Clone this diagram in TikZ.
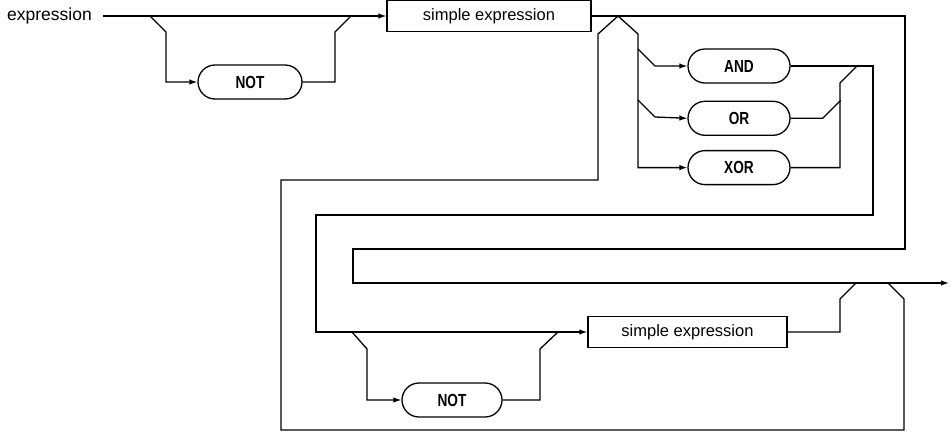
\documentclass[tikz,border=0pt]{standalone}
\usepackage{fontspec}
\setmainfont{Liberation Sans}
\newfontfamily\kwfont[FakeStretch=0.78]{Liberation Sans}
\usetikzlibrary{shapes.misc, arrows.meta, positioning}
\tikzset{
    railbox/.style={rectangle, draw, line width=1.3pt, minimum height=31pt, inner sep=0pt,
                    font=\fontsize{16.5}{20}\selectfont},
    keyword/.style={rounded rectangle, draw, line width=1.3pt, minimum width=102pt,
                    minimum height=34pt, inner sep=0pt,
                    font=\kwfont\bfseries\fontsize{17.5}{20}\selectfont},
    track/.style={line width=1.3pt},
    flow/.style={track, -{Latex[length=8pt, width=5.5pt]}},
    lbl/.style={font=\fontsize{17.5}{20}\selectfont, inner xsep=11pt, inner ysep=0pt},
}

\begin{document}
\begin{tikzpicture}[x=1pt, y=1pt]
    \useasboundingbox (0,0) rectangle (951,-434);

    % nodes
    \node[lbl, anchor=east] (start) at (103,-16) {expression};
    \node[keyword, minimum width=104pt] (not1) at (250,-82) {NOT};
    \node[railbox, minimum width=204pt] (simple1) at (489,-16) {simple expression};
    \node[keyword] (opand) at (739,-66) {AND};
    \node[keyword, below=17pt of opand] (opor) {OR};
    \node[keyword, below=14pt of opor] (opxor) {XOR};
    \node[keyword, minimum width=100pt] (not2) at (452,-400) {NOT};
    \node[railbox, minimum width=199pt] (simple2) at (687.5,-332) {simple expression};

    % junctions
    \coordinate (split1) at (150,-16);
    \coordinate (join1) at (351,-16);
    \coordinate (peak) at (618,-16);
    \coordinate (andsplit) at (638,-49);
    \coordinate (orsplit) at (638,-100);
    \coordinate (split2) at (352,-332);
    \coordinate (join2) at (558,-332);
    \coordinate (loopjoin) at (888,-283);
    \coordinate (exit) at (949,-283);

    % optional NOT before the first term
    \draw[flow] (start.east) -- (simple1.west);
    \draw[flow] (split1) -- ++(16,-16) |- (not1.west);
    \draw[track] (not1.east) -| (335,-32) -- (join1);

    % no operator: straight on to the exit
    \draw[flow] (simple1.east) -- (905,-16) |- (353,-249) |- (exit);

    % operators
    \draw[flow] (peak) -- ++(20,-18) |- (opxor.west);
    \draw[flow] (andsplit) -- ++(17,-17) -- (opand.west);
    \draw[flow] (orsplit) -- ++(17,-17) -- (opor.west);
    \draw[track] (opor.east) -- ++(32,0) -- ++(18,18);
    \draw[track] (opxor.east) -| (840,-83) -- (857,-66);

    % second term, with optional NOT
    \draw[flow] (opand.east) -| (873,-215) -| (316,-332) -- (simple2.west);
    \draw[flow] (split2) -- ++(15,-17) |- (not2.west);
    \draw[track] (not2.east) -| (540,-349) -- (join2);
    \draw[track] (simple2.east) -| (840,-299) -- (856,-283);

    % loop back for further operators
    \draw[track] (loopjoin) -- (904,-299) |- (281,-430) |- (598,-180) -- (598,-34) -- (peak);

\end{tikzpicture}
\end{document}
